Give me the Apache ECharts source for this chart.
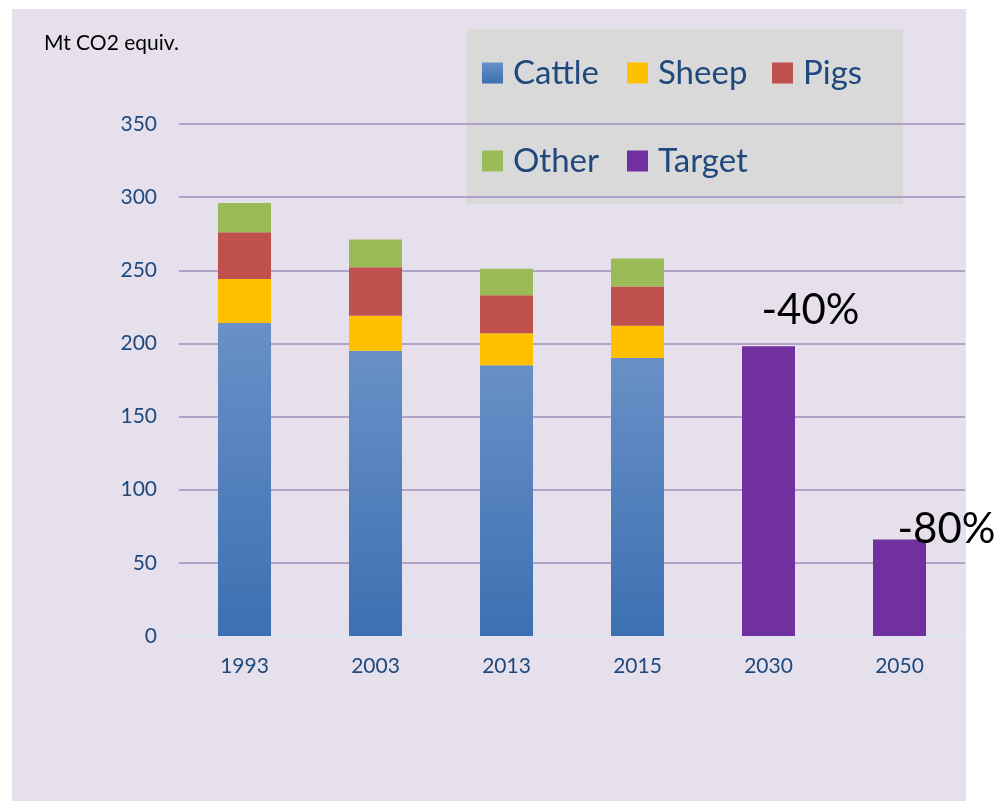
<!DOCTYPE html>
<html>
<head>
<meta charset="utf-8">
<script src="https://cdn.jsdelivr.net/npm/echarts@6/dist/echarts.min.js"></script>
<style>
  html, body { margin: 0; padding: 0; background: #fff; }
  #chart { width: 998px; height: 801px; }
</style>
</head>
<body>
<div id="chart"></div>
<script>
// data
var years = ['1993', '2003', '2013', '2015', '2030', '2050'];
var cattle = [214, 195, 185, 190, '-', '-'];
var sheep = [30, 24, 22, 22, '-', '-'];
var pigs = [32, 33, 26, 27, '-', '-'];
var other = [20, 19, 18, 19, '-', '-'];
var target = ['-', '-', '-', '-', 198, 66];
var targetLabels = ['', '', '', '', '-40%', '-80%'];
var yMax = 350;
var yStep = 50;

var FONT = 'Lato';
var BLUE_TXT = '#1F497D';

var chart = echarts.init(document.getElementById('chart'));

// label offsets for the two target bars
var labelOffsets = {4: [42, -10], 5: [47, 16]};

var targetData = target.map(function (v, i) {
  if (v === '-') return v;
  return {
    value: v,
    label: {
      show: true,
      position: 'top',
      offset: labelOffsets[i],
      formatter: targetLabels[i],
      fontFamily: FONT,
      fontSize: 42,
      color: '#000'
    }
  };
});

function barSeries(name, data, color) {
  return {
    name: name,
    type: 'bar',
    stack: 'total',
    barWidth: 53,
    itemStyle: { color: color },
    data: data
  };
}

var option = {
  backgroundColor: '#fff',
  animation: false,
  graphic: [{
    type: 'rect',
    z: -10,
    shape: { x: 12, y: 9, width: 954, height: 792 },
    style: { fill: '#E6E0EC' }
  }, {
    type: 'rect',
    z: -5,
    shape: { x: 467, y: 29, width: 436, height: 175 },
    style: { fill: '#D9D9D9' }
  }],
  title: {
    text: 'Mt CO2 equiv.',
    left: 44,
    top: 33,
    padding: 0,
    textStyle: { fontFamily: FONT, fontSize: 21, fontWeight: 'normal', color: '#000' }
  },
  legend: {
    left: 482,
    top: 29,
    width: 436,
    padding: 0,
    itemGap: 0,
    itemWidth: 21,
    itemHeight: 21,
    icon: 'rect',
    data: ['Cattle', 'Sheep', 'Pigs', 'Other', 'Target'],
    textStyle: {
      fontFamily: FONT,
      fontSize: 33,
      color: BLUE_TXT,
      width: 114,
      lineHeight: 88,
      padding: [0, 0, 0, 5]
    }
  },
  grid: { left: 179, right: 33, top: 124, bottom: 165 },
  xAxis: {
    type: 'category',
    data: years,
    axisLine: { show: true, lineStyle: { color: '#DCE6F2', width: 2 } },
    axisTick: { show: false },
    axisLabel: { fontFamily: FONT, fontSize: 21, color: BLUE_TXT, margin: 20 }
  },
  yAxis: {
    type: 'value',
    min: 0,
    max: yMax,
    interval: yStep,
    axisLine: { show: false },
    axisTick: { show: false },
    axisLabel: { fontFamily: FONT, fontSize: 21, color: BLUE_TXT, margin: 22 },
    splitLine: { lineStyle: { color: '#B3A2C7', width: 2 } }
  },
  series: [
    barSeries('Cattle', cattle, new echarts.graphic.LinearGradient(0, 0, 0, 1, [
      { offset: 0, color: '#6990C7' },
      { offset: 1, color: '#3C70B2' }
    ])),
    barSeries('Sheep', sheep, '#FFC000'),
    barSeries('Pigs', pigs, '#C0504D'),
    barSeries('Other', other, '#9BBB59'),
    barSeries('Target', targetData, '#7030A0')
  ]
};

chart.setOption(option);
</script>
</body>
</html>
